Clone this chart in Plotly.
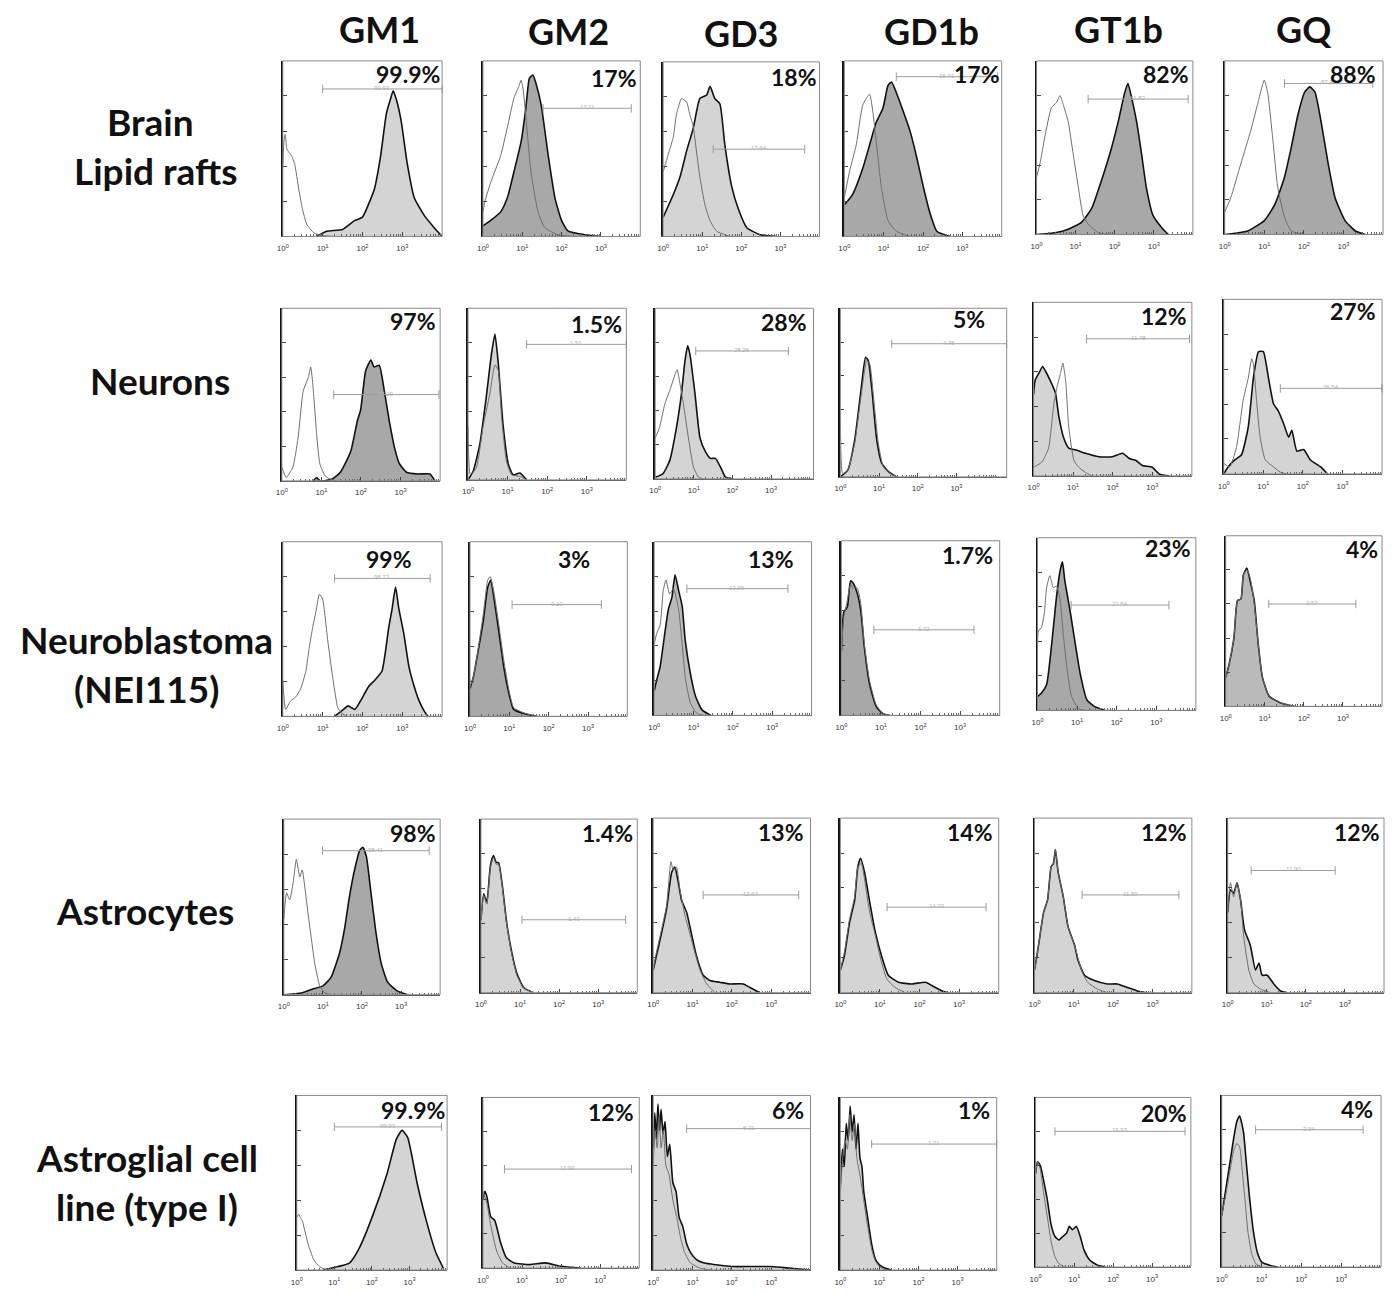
import plotly.graph_objects as go

# page is rendered with the default 8px body margin
PAGE_OFF = 8
W, H = 1382, 1279

# ---------------- text / values ----------------
COLS = ["GM1", "GM2", "GD3", "GD1b", "GT1b", "GQ"]
ROW_LINES = [["Brain", "Lipid rafts"], ["Neurons"], ["Neuroblastoma", "(NEI115)"],
             ["Astrocytes"], ["Astroglial cell", "line (type I)"]]
PCT = [["99.9%", "17%", "18%", "17%", "82%", "88%"],
       ["97%", "1.5%", "28%", "5%", "12%", "27%"],
       ["99%", "3%", "13%", "1.7%", "23%", "4%"],
       ["98%", "1.4%", "13%", "14%", "12%", "12%"],
       ["99.9%", "12%", "6%", "1%", "20%", "4%"]]
TICK_TEXT = ["10<sup>0</sup>", "10<sup>1</sup>", "10<sup>2</sup>", "10<sup>3</sup>"]
TICK_VALS = [1, 10, 100, 1000]

# gate bars: start / end (log10 decades), height (% of max), label
GATE_LO = [[1.0, 1.53, 1.28, 1.32, 1.32, 1.51],
           [1.31, 1.48, 1.05, 1.33, 1.34, 1.43],
           [1.3, 1.07, 0.83, 0.82, 0.85, 1.1],
           [0.99, 1.05, 1.27, 1.18, 1.21, 0.6],
           [1.0, 0.55, 0.85, 0.8, 0.5, 0.85]]
GATE_HI = [[4.0, 3.77, 3.62, 3.9, 3.88, 3.74],
           [3.97, 4.0, 3.45, 4.3, 3.94, 4.0],
           [3.7, 3.34, 3.4, 3.35, 3.32, 3.33],
           [3.72, 3.7, 3.7, 3.68, 3.67, 2.75],
           [3.85, 3.8, 4.0, 4.0, 3.85, 3.55]]
GATE_Y = [[84, 73, 50, 91, 78, 87],
          [50, 79, 75, 79, 79, 49],
          [79, 64, 73, 49, 61, 60],
          [82, 42, 56, 49, 56, 70],
          [82, 58, 81, 73, 80, 80]]
GATE_TXT = [["99.93", "17.11", "17.64", "16.71", "81.82", "87.46"],
            ["97.29", "1.51", "28.26", "4.76", "11.78", "26.54"],
            ["98.72", "3.10", "13.09", "1.72", "22.54", "3.57"],
            ["98.41", "1.43", "12.67", "14.23", "11.50", "11.90"],
            ["99.93", "11.90", "6.31", "1.21", "19.93", "3.94"]]

# histograms: (log10 intensity, % of max count)
R1_GM1_CTRL = [(0,40),(0.03,55),(0.06,58),(0.1,50),(0.15,48),(0.22,46),(0.3,41),(0.4,27),(0.49,16),(0.6,7),(0.78,2),(1.0,0.5),(1.3,0)]
R1_GM1_SMPL = [(0.85,0),(1.1,3),(1.5,4),(1.8,9),(2.0,11),(2.2,21),(2.3,27),(2.45,45),(2.6,70),(2.7,78),(2.77,83),(2.85,78),(2.97,66),(3.12,42),(3.3,22),(3.55,12),(3.8,5),(4.0,0)]
R1_GM2_CTRL = [(0,14),(0.05,20),(0.2,31),(0.45,46),(0.62,62),(0.79,79),(0.92,86),(0.97,89),(1.02,84),(1.1,66),(1.22,37),(1.4,14),(1.57,5),(1.9,1),(2.3,0)]
R1_GM2_SMPL = [(0,6),(0.19,9),(0.45,14),(0.62,22),(0.79,37),(0.97,54),(1.09,73),(1.18,90),(1.27,92),(1.35,87),(1.48,75),(1.66,46),(1.83,22),(2.0,9),(2.17,3),(2.6,1),(3.0,0)]
R1_GD3_CTRL = [(0,37),(0.13,47),(0.26,57),(0.34,70),(0.47,79),(0.6,77),(0.68,70),(0.77,63),(0.85,49),(0.94,34),(1.07,18),(1.2,9),(1.37,3),(1.7,0)]
R1_GD3_SMPL = [(0,11),(0.26,24),(0.43,34),(0.6,49),(0.77,62),(0.94,79),(1.11,81),(1.2,86),(1.32,79),(1.45,76),(1.58,52),(1.75,29),(1.92,16),(2.14,5),(2.48,1),(2.9,0)]
R1_GD1B_CTRL = [(0,22),(0.13,37),(0.3,52),(0.47,75),(0.64,81),(0.73,70),(0.81,54),(0.94,28),(1.11,9),(1.32,3),(1.67,0)]
R1_GD1B_SMPL = [(0,18),(0.21,24),(0.47,39),(0.64,52),(0.81,65),(0.98,73),(1.11,86),(1.2,88),(1.32,82),(1.5,71),(1.67,60),(1.84,45),(2.01,28),(2.18,13),(2.35,3),(2.69,0)]
R1_GT1B_CTRL = [(0,33),(0.09,41),(0.21,56),(0.38,73),(0.51,76),(0.6,80),(0.68,75),(0.81,65),(0.94,46),(1.07,27),(1.19,11),(1.32,6),(1.58,1),(1.83,0)]
R1_GT1B_SMPL = [(0,0),(0.47,1),(0.81,3),(1.15,7),(1.41,15),(1.66,31),(1.92,50),(2.09,65),(2.26,82),(2.34,87),(2.43,79),(2.56,65),(2.69,46),(2.81,27),(2.98,11),(3.2,4),(3.37,0)]
R1_GQ_CTRL = [(0,13),(0.15,21),(0.41,41),(0.66,60),(0.83,75),(1.0,89),(1.09,81),(1.21,56),(1.34,27),(1.51,10),(1.68,2),(2.02,0)]
R1_GQ_SMPL = [(0,0),(0.58,2),(1.0,8),(1.26,17),(1.51,33),(1.68,50),(1.85,69),(2.02,82),(2.15,85),(2.28,82),(2.45,63),(2.62,40),(2.79,21),(3.04,8),(3.3,2),(3.55,0)]

R2_GM1_CTRL = [(0,8),(0.11,2),(0.28,8),(0.41,25),(0.54,52),(0.67,60),(0.73,66),(0.79,54),(0.88,27),(0.96,10),(1.09,3),(1.22,1),(1.39,0)]
R2_GM1_SMPL = [(0.8,0),(0.88,2),(0.96,0),(1.26,1),(1.48,5),(1.74,17),(1.91,35),(1.99,41),(2.12,64),(2.25,70),(2.33,66),(2.46,67),(2.59,52),(2.72,34),(2.85,19),(2.97,10),(3.15,5),(3.44,4),(3.74,4),(3.87,0)]
R2_GM2_CTRL = [(0,31),(0.06,3),(0.21,7),(0.38,31),(0.55,50),(0.68,67),(0.76,64),(0.85,36),(0.97,11),(1.1,3),(1.31,2),(1.48,0)]
R2_GM2_SMPL = [(0,0),(0.13,5),(0.3,21),(0.47,50),(0.59,73),(0.68,85),(0.76,69),(0.89,31),(1.02,9),(1.14,3),(1.31,4),(1.48,0)]
R2_GD3_CTRL = [(0,24),(0.11,30),(0.25,44),(0.38,52),(0.51,61),(0.57,64),(0.64,56),(0.73,44),(0.86,24),(0.99,7),(1.12,1),(1.25,0)]
R2_GD3_SMPL = [(0,1),(0.2,3),(0.38,11),(0.55,30),(0.68,50),(0.77,69),(0.84,78),(0.9,73),(1.03,50),(1.16,24),(1.3,16),(1.43,12),(1.56,12),(1.69,7),(1.82,1),(2.0,0)]
R2_GD1B_CTRL = [(0,35),(0.06,2),(0.19,4),(0.37,20),(0.54,49),(0.68,69),(0.76,67),(0.85,49),(0.98,20),(1.11,6),(1.29,2),(1.46,0)]
R2_GD1B_SMPL = [(0,0),(0.19,4),(0.37,22),(0.54,53),(0.65,71),(0.72,69),(0.81,53),(0.94,22),(1.07,8),(1.25,3),(1.46,0)]
R2_GT1B_CTRL = [(0,5),(0.21,8),(0.38,16),(0.51,41),(0.59,51),(0.68,59),(0.74,65),(0.81,55),(0.89,28),(1.02,9),(1.14,5),(1.31,2),(1.48,0)]
R2_GT1B_SMPL = [(0,47),(0.04,55),(0.13,59),(0.23,63),(0.31,60),(0.42,55),(0.55,48),(0.64,34),(0.76,22),(0.89,16),(1.06,15),(1.31,13),(1.65,11),(1.99,11),(2.25,13),(2.42,10),(2.58,9),(2.75,6),(3.0,5),(3.18,1),(3.43,0)]
R2_GQ_CTRL = [(0,6),(0.15,4),(0.32,15),(0.49,42),(0.62,55),(0.71,66),(0.75,63),(0.83,42),(0.92,21),(1.05,8),(1.26,4),(1.43,1),(1.6,0)]
R2_GQ_SMPL = [(0,0),(0.11,4),(0.28,8),(0.45,11),(0.62,27),(0.75,55),(0.88,70),(1.0,70),(1.13,55),(1.26,40),(1.38,36),(1.51,29),(1.64,21),(1.72,25),(1.85,13),(2.02,14),(2.19,8),(2.45,4),(2.62,0)]

R3_GM1_CTRL = [(0,20),(0.07,4),(0.2,9),(0.32,11),(0.45,16),(0.58,26),(0.66,39),(0.75,51),(0.83,60),(0.92,70),(1.0,67),(1.13,43),(1.26,21),(1.38,5),(1.47,2),(1.6,0)]
R3_GM1_SMPL = [(1.3,0),(1.47,3),(1.64,6),(1.81,4),(1.98,10),(2.15,17),(2.32,21),(2.49,26),(2.66,51),(2.74,61),(2.83,74),(2.91,62),(3.04,47),(3.17,28),(3.3,17),(3.42,9),(3.55,3),(3.64,0)]
R3_GM2_CTRL = [(0,17),(0.09,23),(0.21,39),(0.34,59),(0.45,78),(0.51,80),(0.6,72),(0.73,53),(0.86,32),(0.99,15),(1.11,5),(1.37,2),(1.71,0)]
R3_GM2_SMPL = [(0,16),(0.09,23),(0.21,38),(0.34,55),(0.45,74),(0.53,78),(0.6,69),(0.73,49),(0.86,28),(0.99,13),(1.11,4),(1.46,1),(1.71,0)]
R3_GD3_CTRL = [(0,41),(0.06,47),(0.15,52),(0.23,72),(0.3,78),(0.39,70),(0.49,73),(0.62,61),(0.71,41),(0.79,22),(0.92,7),(1.09,1),(1.26,0)]
R3_GD3_SMPL = [(0,14),(0.06,20),(0.15,28),(0.28,49),(0.36,61),(0.45,68),(0.53,81),(0.62,72),(0.71,63),(0.79,43),(0.92,24),(1.05,11),(1.22,3),(1.44,0)]
R3_GD1B_CTRL = [(0,37),(0.06,56),(0.15,66),(0.23,75),(0.3,73),(0.4,73),(0.49,64),(0.58,41),(0.71,20),(0.88,6),(1.05,1),(1.22,0)]
R3_GD1B_SMPL = [(0,37),(0.06,59),(0.15,62),(0.23,77),(0.29,76),(0.4,70),(0.49,60),(0.58,39),(0.71,18),(0.88,5),(1.05,1),(1.22,0)]
R3_GT1B_CTRL = [(0,29),(0.02,46),(0.1,48),(0.17,56),(0.23,71),(0.31,78),(0.4,71),(0.48,72),(0.57,64),(0.65,44),(0.74,25),(0.86,8),(1.03,1),(1.2,0)]
R3_GT1B_SMPL = [(0,8),(0.1,10),(0.23,15),(0.36,39),(0.48,66),(0.57,81),(0.63,86),(0.69,75),(0.82,58),(0.95,39),(1.08,21),(1.25,6),(1.46,2),(1.71,0)]
R3_GQ_CTRL = [(0,17),(0.09,25),(0.21,40),(0.3,62),(0.39,63),(0.45,77),(0.54,80),(0.63,75),(0.73,60),(0.83,37),(0.94,17),(1.11,6),(1.41,2),(1.76,0)]
R3_GQ_SMPL = [(0,17),(0.09,25),(0.21,40),(0.3,62),(0.39,63),(0.45,77),(0.54,81),(0.63,73),(0.73,62),(0.83,37),(0.94,17),(1.11,6),(1.41,2),(1.76,0)]

R4_GM1_CTRL = [(0,43),(0.07,58),(0.15,54),(0.24,64),(0.32,77),(0.41,67),(0.47,71),(0.55,59),(0.62,46),(0.71,31),(0.79,18),(0.92,5),(1.05,1),(1.21,0)]
R4_GM1_SMPL = [(0,0),(0.45,1),(0.71,3),(1.0,5),(1.21,10),(1.43,24),(1.55,37),(1.68,56),(1.81,71),(1.94,82),(2.02,84),(2.11,79),(2.23,58),(2.36,35),(2.49,18),(2.66,7),(2.91,2),(3.17,0)]
R4_GM2_CTRL = [(0,42),(0.07,56),(0.15,51),(0.24,72),(0.32,78),(0.39,74),(0.45,74),(0.54,62),(0.66,39),(0.79,22),(0.92,10),(1.09,3),(1.34,0)]
R4_GM2_SMPL = [(0,42),(0.07,57),(0.15,52),(0.24,73),(0.32,79),(0.39,75),(0.45,75),(0.54,63),(0.66,40),(0.79,23),(0.92,11),(1.09,3),(1.34,0)]
R4_GD3_CTRL = [(0,13),(0.08,23),(0.21,36),(0.34,50),(0.45,75),(0.51,70),(0.59,72),(0.68,59),(0.81,44),(0.93,34),(1.06,23),(1.19,13),(1.36,5),(1.57,0)]
R4_GD3_SMPL = [(0,13),(0.08,21),(0.21,34),(0.34,48),(0.47,69),(0.55,72),(0.64,63),(0.72,53),(0.85,46),(0.97,34),(1.1,21),(1.27,10),(1.44,7),(1.69,6),(1.95,5),(2.29,5),(2.46,3),(2.71,0)]
R4_GD1B_CTRL = [(0,13),(0.1,23),(0.23,42),(0.36,55),(0.44,72),(0.53,74),(0.61,65),(0.74,46),(0.87,34),(1.0,21),(1.17,8),(1.38,3),(1.64,0)]
R4_GD1B_SMPL = [(0,13),(0.1,21),(0.23,40),(0.36,53),(0.44,72),(0.51,77),(0.61,69),(0.74,52),(0.87,36),(1.04,21),(1.21,10),(1.47,6),(1.81,5),(2.15,6),(2.32,4),(2.57,1),(2.74,0)]
R4_GT1B_CTRL = [(0,13),(0.1,27),(0.23,46),(0.33,53),(0.42,72),(0.48,74),(0.53,82),(0.6,69),(0.73,55),(0.85,38),(1.02,27),(1.19,13),(1.35,6),(1.6,2),(1.85,0)]
R4_GT1B_SMPL = [(0,13),(0.1,27),(0.23,46),(0.33,53),(0.42,72),(0.48,74),(0.53,82),(0.6,69),(0.73,55),(0.85,38),(1.02,27),(1.1,19),(1.27,10),(1.52,7),(1.85,5),(2.1,5),(2.36,3),(2.61,1),(2.86,0)]
R4_GQ_CTRL = [(0,46),(0.07,63),(0.15,55),(0.24,63),(0.33,53),(0.41,32),(0.54,13),(0.67,5),(0.84,2),(1.1,0)]
R4_GQ_SMPL = [(0,46),(0.07,59),(0.15,57),(0.24,63),(0.33,53),(0.43,36),(0.58,27),(0.71,13),(0.8,17),(0.88,10),(1.01,10),(1.18,5),(1.35,1),(1.53,0)]

R5_GM1_CTRL = [(0,30),(0.05,32),(0.1,30),(0.15,28),(0.3,15),(0.45,6),(0.6,2),(0.8,0)]
R5_GM1_SMPL = [(0.7,0),(1.1,2),(1.4,4),(1.65,12),(2.0,30),(2.4,55),(2.65,75),(2.8,80),(2.95,76),(3.2,50),(3.45,28),(3.7,10),(3.9,1)]
R5_GM2_CTRL = [(0,45),(0.1,38),(0.2,25),(0.35,10),(0.5,3),(0.7,0)]
R5_GM2_SMPL = [(0,40),(0.05,45),(0.1,42),(0.2,30),(0.3,28),(0.45,15),(0.6,6),(0.8,3),(1.2,2),(1.6,3),(2.0,1),(2.5,0)]
R5_GD3_CTRL = [(0,60),(0.05,80),(0.1,70),(0.15,88),(0.2,70),(0.26,80),(0.32,60),(0.4,55),(0.5,40),(0.6,30),(0.7,18),(0.8,10),(0.95,4),(1.2,1),(1.5,0)]
R5_GD3_SMPL = [(0,70),(0.04,90),(0.08,75),(0.12,95),(0.16,80),(0.2,92),(0.25,78),(0.3,85),(0.36,65),(0.42,72),(0.5,50),(0.58,45),(0.66,30),(0.75,25),(0.85,15),(0.95,10),(1.1,6),(1.3,4),(1.6,3),(2.0,2),(2.5,2),(3.0,2),(3.5,1),(4.0,0)]
R5_GD1B_CTRL = [(0,45),(0.06,65),(0.12,75),(0.18,70),(0.24,90),(0.3,75),(0.36,85),(0.42,65),(0.5,55),(0.6,40),(0.7,25),(0.8,12),(0.9,5),(1.05,1),(1.2,0)]
R5_GD1B_SMPL = [(0,50),(0.05,70),(0.1,60),(0.15,85),(0.2,75),(0.25,95),(0.3,80),(0.35,90),(0.4,70),(0.45,85),(0.5,65),(0.55,60),(0.6,45),(0.7,30),(0.8,15),(0.9,6),(1.0,3),(1.15,1),(1.3,0)]
R5_GT1B_CTRL = [(0,55),(0.05,62),(0.12,58),(0.2,45),(0.3,30),(0.4,15),(0.5,6),(0.6,2),(0.75,0)]
R5_GT1B_SMPL = [(0,55),(0.05,62),(0.12,60),(0.2,52),(0.3,40),(0.4,25),(0.5,18),(0.6,16),(0.7,18),(0.8,20),(0.87,24),(0.95,22),(1.05,24),(1.15,18),(1.25,10),(1.4,4),(1.6,1),(1.8,0)]
R5_GQ_CTRL = [(0,30),(0.1,42),(0.2,55),(0.3,68),(0.38,72),(0.45,70),(0.5,60),(0.58,40),(0.66,20),(0.75,8),(0.85,2),(1.0,0)]
R5_GQ_SMPL = [(0,30),(0.1,45),(0.2,60),(0.3,75),(0.38,85),(0.45,88),(0.5,84),(0.55,78),(0.62,60),(0.7,40),(0.8,20),(0.9,8),(1.0,3),(1.2,1),(1.4,0)]

CURVES = [
    [(R1_GM1_CTRL, R1_GM1_SMPL), (R1_GM2_CTRL, R1_GM2_SMPL), (R1_GD3_CTRL, R1_GD3_SMPL),
     (R1_GD1B_CTRL, R1_GD1B_SMPL), (R1_GT1B_CTRL, R1_GT1B_SMPL), (R1_GQ_CTRL, R1_GQ_SMPL)],
    [(R2_GM1_CTRL, R2_GM1_SMPL), (R2_GM2_CTRL, R2_GM2_SMPL), (R2_GD3_CTRL, R2_GD3_SMPL),
     (R2_GD1B_CTRL, R2_GD1B_SMPL), (R2_GT1B_CTRL, R2_GT1B_SMPL), (R2_GQ_CTRL, R2_GQ_SMPL)],
    [(R3_GM1_CTRL, R3_GM1_SMPL), (R3_GM2_CTRL, R3_GM2_SMPL), (R3_GD3_CTRL, R3_GD3_SMPL),
     (R3_GD1B_CTRL, R3_GD1B_SMPL), (R3_GT1B_CTRL, R3_GT1B_SMPL), (R3_GQ_CTRL, R3_GQ_SMPL)],
    [(R4_GM1_CTRL, R4_GM1_SMPL), (R4_GM2_CTRL, R4_GM2_SMPL), (R4_GD3_CTRL, R4_GD3_SMPL),
     (R4_GD1B_CTRL, R4_GD1B_SMPL), (R4_GT1B_CTRL, R4_GT1B_SMPL), (R4_GQ_CTRL, R4_GQ_SMPL)],
    [(R5_GM1_CTRL, R5_GM1_SMPL), (R5_GM2_CTRL, R5_GM2_SMPL), (R5_GD3_CTRL, R5_GD3_SMPL),
     (R5_GD1B_CTRL, R5_GD1B_SMPL), (R5_GT1B_CTRL, R5_GT1B_SMPL), (R5_GQ_CTRL, R5_GQ_SMPL)],
]

# ---------------- layout / style (page pixel coordinates) ----------------
PANEL_BOX = [  # left, right, top, bottom
    [(278, 438, 61, 237), (479, 637, 61, 237), (660, 817, 62, 237), (842, 1000, 61, 237), (1035, 1192, 61, 235), (1224, 1383, 61, 235)],
    [(277, 436, 309, 482), (464, 623, 309, 481), (652, 811, 309, 480), (838, 1005, 309, 478), (1032, 1191, 303, 477), (1223, 1382, 300, 475)],
    [(278, 438, 543, 718), (466, 624, 543, 718), (651, 809, 543, 717), (839, 998, 542, 717), (1036, 1195, 539, 712), (1225, 1382, 537, 708)],
    [(279, 436, 821, 997), (477, 634, 821, 995), (650, 808, 820, 995), (838, 997, 820, 995), (1033, 1191, 820, 995), (1227, 1384, 820, 995)],
    [(292, 443, 1098, 1273), (479, 636, 1100, 1271), (650, 808, 1098, 1273), (838, 995, 1100, 1273), (1034, 1190, 1100, 1270), (1221, 1381, 1098, 1270)],
]
XMAX = [[4.0] * 6, [4.0, 4.0, 4.1, 4.3, 4.0, 4.0], [4.0] * 6, [4.0] * 6, [4.0] * 6]
PCT_RIGHT_OFF = [[0, 1, 0, 0, 2, 5], [2, 2, 5, 20, 3, 4], [28, 35, 16, 5, 3, 2], [2, 2, 5, 4, 3, 2], [0, 3, 5, 5, 2, 6]]
PCT_DY = [[13, 17, 15, 13, 13, 13], [13, 16, 14, 11, 14, 12], [17, 17, 17, 14, 10, 13], [14, 14, 14, 14, 14, 14], [15, 15, 15, 13, 16, 14]]
LIGHT, DARK, MED = "#d4d4d4", "#a8a8a8", "#bababa"
FILL = [[LIGHT, DARK, LIGHT, DARK, DARK, DARK],
        [DARK, LIGHT, LIGHT, LIGHT, LIGHT, LIGHT],
        [LIGHT, DARK, MED, DARK, DARK, MED],
        [DARK, LIGHT, LIGHT, LIGHT, LIGHT, LIGHT],
        [LIGHT] * 6]
HEADER_XY = [(375, 29), (565, 31), (738, 33), (929, 31), (1117, 29), (1304, 29)]
ROW_LINE_XY = [[(145, 122), (150, 171)], [(155, 381)], [(141, 641), (141, 690)],
               [(140, 913)], [(142, 1160), (142, 1209)]]

FONT = "Lato"
fig = go.Figure()
layout = dict(width=W, height=H, margin=dict(l=0, r=0, t=0, b=0), autosize=False,
              paper_bgcolor="white", plot_bgcolor="white", showlegend=False)
annotations = []
shapes = []


def px_x(v):
    return (v - PAGE_OFF) / W


def px_y(v):
    return 1 - (v - PAGE_OFF) / H


for r in range(5):
    for c in range(6):
        k = r * 6 + c + 1
        xa = "x" if k == 1 else f"x{k}"
        ya = "y" if k == 1 else f"y{k}"
        xkey = "xaxis" if k == 1 else f"xaxis{k}"
        ykey = "yaxis" if k == 1 else f"yaxis{k}"
        l, rt, t, b = PANEL_BOX[r][c]
        layout[xkey] = dict(domain=[px_x(l), px_x(rt)], anchor=ya, type="log",
                            range=[0, XMAX[r][c]], tickvals=TICK_VALS, ticktext=TICK_TEXT,
                            ticks="inside", ticklen=4, tickcolor="#444", tickwidth=1,
                            ticklabelstandoff=4,
                            minor=dict(dtick="D1", ticks="inside", ticklen=2, tickcolor="#666", showgrid=False),
                            tickfont=dict(size=8, color="#333", family="Liberation Sans"),
                            showline=True, linecolor="#555", linewidth=1, mirror=False,
                            showgrid=False, zeroline=False, fixedrange=True)
        layout[ykey] = dict(domain=[px_y(b), px_y(t)], anchor=xa, range=[0, 100],
                            tickvals=[0, 20, 40, 60, 80], ticks="inside", ticklen=4,
                            tickcolor="#444", showticklabels=False, showline=True,
                            linecolor="#111", linewidth=2, showgrid=False, zeroline=False,
                            fixedrange=True)
        shapes.append(dict(type="rect", xref="paper", yref="paper",
                           x0=px_x(l), x1=px_x(rt), y0=px_y(b), y1=px_y(t),
                           line=dict(color="#8a8a8a", width=1), fillcolor="rgba(0,0,0,0)",
                           layer="above"))
        ctrl, smpl = CURVES[r][c]
        fig.add_trace(go.Scatter(x=[10 ** p[0] for p in smpl], y=[p[1] for p in smpl],
                                 xaxis=xa, yaxis=ya, mode="lines", fill="tozeroy",
                                 fillcolor=FILL[r][c],
                                 line=dict(color="#111", width=1.6, shape="spline", smoothing=0.5),
                                 hoverinfo="skip"))
        fig.add_trace(go.Scatter(x=[10 ** p[0] for p in ctrl], y=[p[1] for p in ctrl],
                                 xaxis=xa, yaxis=ya, mode="lines",
                                 line=dict(color="#6e6e6e", width=1, shape="spline", smoothing=0.5),
                                 hoverinfo="skip"))
        # gate bar
        lo, hi, gy = GATE_LO[r][c], GATE_HI[r][c], GATE_Y[r][c]
        fig.add_trace(go.Scatter(x=[10 ** lo, 10 ** hi], y=[gy, gy], xaxis=xa, yaxis=ya,
                                 mode="lines+markers", cliponaxis=False,
                                 line=dict(color="#9c9c9c", width=1),
                                 marker=dict(symbol="line-ns-open", size=6,
                                             line=dict(color="#9c9c9c", width=1)),
                                 hoverinfo="skip"))
        annotations.append(dict(x=(lo + hi) / 2, y=gy, xref=xa, yref=ya, text=GATE_TXT[r][c],
                                showarrow=False, yanchor="middle", yshift=1,
                                font=dict(size=6, color="#b0b0b0", family="Liberation Sans")))
        # percentage
        annotations.append(dict(x=px_x(rt - PCT_RIGHT_OFF[r][c]), y=px_y(t + PCT_DY[r][c]),
                                xref="paper", yref="paper", xanchor="right", yanchor="middle",
                                text=f"<b>{PCT[r][c]}</b>", showarrow=False,
                                font=dict(size=23, color="#111", family=FONT)))

for c, name in enumerate(COLS):
    x, y = HEADER_XY[c]
    annotations.append(dict(x=px_x(x), y=px_y(y), xref="paper", yref="paper",
                            xanchor="center", yanchor="middle", text=f"<b>{name}</b>",
                            showarrow=False, font=dict(size=36, color="#111", family=FONT)))

for r, lines in enumerate(ROW_LINES):
    for i, line in enumerate(lines):
        x, y = ROW_LINE_XY[r][i]
        annotations.append(dict(x=px_x(x), y=px_y(y), xref="paper", yref="paper",
                                xanchor="center", yanchor="middle", text=f"<b>{line}</b>",
                                showarrow=False, font=dict(size=37, color="#111", family=FONT)))

layout["annotations"] = annotations
layout["shapes"] = shapes
fig.update_layout(**layout)
fig.write_html("out.html")
